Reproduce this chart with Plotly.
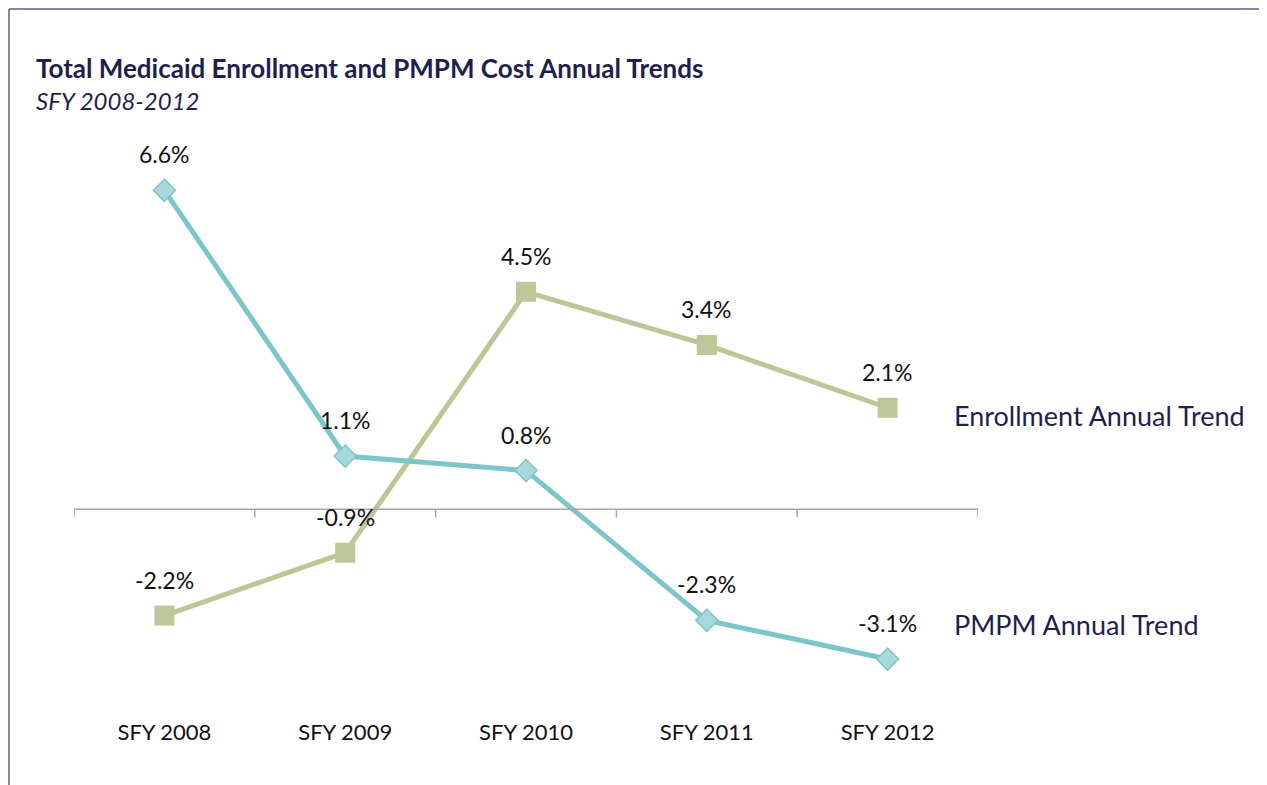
import plotly.graph_objects as go

# chart data
years = ["SFY 2008", "SFY 2009", "SFY 2010", "SFY 2011", "SFY 2012"]
enrollment_trend = [-2.2, -0.9, 4.5, 3.4, 2.1]
pmpm_trend = [6.6, 1.1, 0.8, -2.3, -3.1]

OLIVE = "#bcc697"
TEAL = "#7cc6ca"
NAVY = "#1f1f4f"
FONT = "Lato, 'Open Sans', sans-serif"

fig = go.Figure()

# enrollment first so the PMPM line sits on top
fig.add_trace(go.Scatter(
    x=years, y=enrollment_trend, mode="lines+markers",
    name="Enrollment Annual Trend",
    line=dict(color=OLIVE, width=5),
    marker=dict(symbol="square", size=20, color="#bdc799"),
    cliponaxis=False,
))
fig.add_trace(go.Scatter(
    x=years, y=pmpm_trend, mode="lines+markers",
    name="PMPM Annual Trend",
    line=dict(color=TEAL, width=5),
    marker=dict(symbol="diamond", size=17, color="#a7d9dc",
                line=dict(color="#7cc6ca", width=1.5)),
    cliponaxis=False,
))

# value labels above each point
for series in (enrollment_trend, pmpm_trend):
    for yr, v in zip(years, series):
        fig.add_annotation(x=yr, y=v, text=f"{v:.1f}%", showarrow=False,
                           yshift=36, yanchor="middle",
                           font=dict(size=23, color="#111111", family=FONT))

# series labels to the right
fig.add_annotation(x=0.9713, y=0.5235, xref="paper", yref="paper",
                   xanchor="left", yanchor="middle",
                   text="Enrollment Annual Trend", showarrow=False,
                   font=dict(size=27, color=NAVY, family=FONT))
fig.add_annotation(x=0.9713, y=0.1617, xref="paper", yref="paper",
                   xanchor="left", yanchor="middle",
                   text="PMPM Annual Trend", showarrow=False,
                   font=dict(size=27, color=NAVY, family=FONT))

# title block
fig.add_annotation(x=-0.0443, y=1.1287, xref="paper", yref="paper",
                   xanchor="left", yanchor="middle",
                   text="<b>Total Medicaid Enrollment and PMPM Cost Annual Trends</b>",
                   showarrow=False, font=dict(size=26, color=NAVY, family=FONT))
fig.add_annotation(x=-0.0443, y=1.073, xref="paper", yref="paper",
                   xanchor="left", yanchor="middle",
                   text="<i>SFY 2008-2012</i>", showarrow=False,
                   font=dict(size=24, color=NAVY, family=FONT))

# zero axis line with tick marks between categories
fig.add_shape(type="line", xref="x", yref="y", x0=-0.5, x1=4.5, y0=0, y1=0,
              line=dict(color="#a6a6ad", width=1.5))
for i in range(6):
    fig.add_shape(type="line", xref="x", yref="y", x0=i - 0.5, x1=i - 0.5,
                  y0=0, y1=-0.17, line=dict(color="#a6a6ad", width=1.5))

# frame lines top and left
fig.add_shape(type="line", xref="paper", yref="paper", x0=-0.0719, x1=1.35,
              y0=1.2313, y1=1.2313, line=dict(color="#5b5b82", width=1.5))
fig.add_shape(type="line", xref="paper", yref="paper", x0=-0.0719, x1=-0.0719,
              y0=1.2313, y1=-0.14, line=dict(color="#5b5b82", width=1.5))

fig.update_xaxes(range=[-0.5, 4.5], showgrid=False, showline=False, zeroline=False,
                 ticks="", tickfont=dict(size=22, color="#111111", family=FONT))
fig.update_yaxes(range=[-4.3, 7.6], showgrid=False, showline=False, zeroline=False,
                 showticklabels=False)
fig.update_layout(
    width=1267, height=785,
    margin=dict(l=66, r=297, t=134, b=76),
    plot_bgcolor="white", paper_bgcolor="white",
    showlegend=False,
    font=dict(family=FONT),
)

fig.write_html("out.html")
